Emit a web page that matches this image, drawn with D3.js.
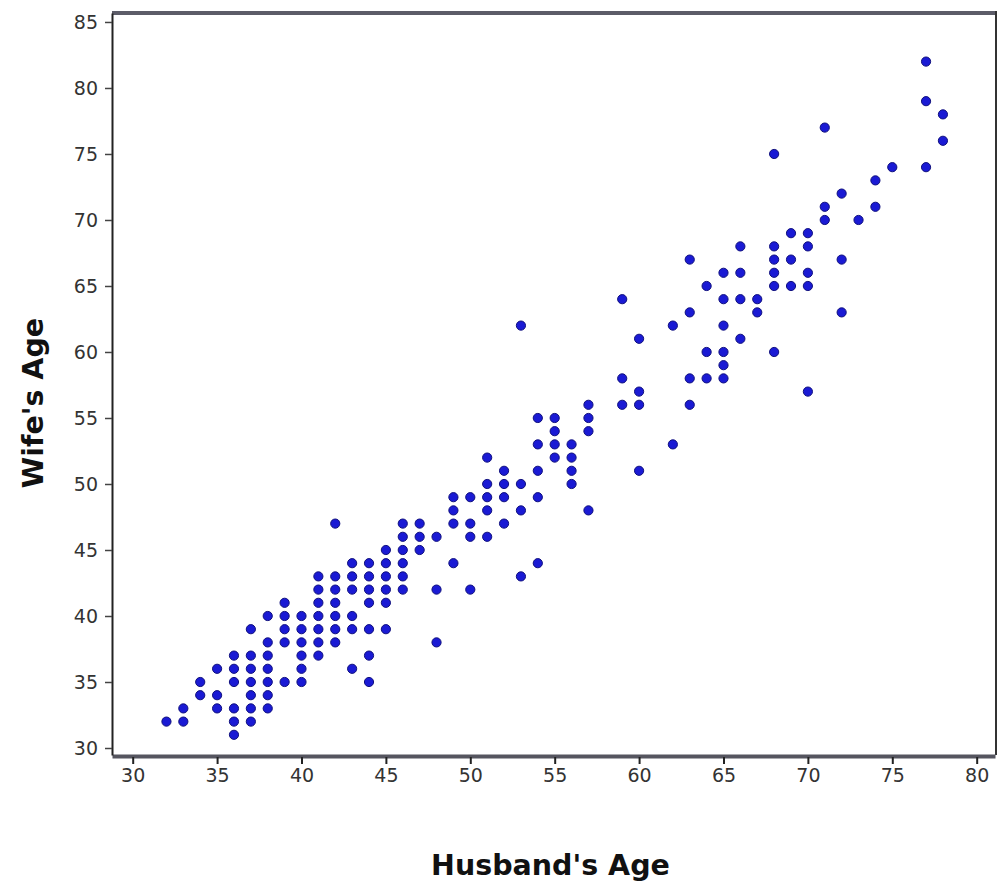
<!DOCTYPE html>
<html>
<head>
<meta charset="utf-8">
<script src="https://cdn.jsdelivr.net/npm/d3@7"></script>
<style>
  body { margin: 0; background: #fff; }
  #viz text { font-family: "DejaVu Sans", sans-serif; }
</style>
</head>
<body>
<div id="viz"></div>
<script>
// husband / wife ages, one pair per couple
var husbandAge = [
  32,
  33, 33,
  34, 34,
  35, 35, 35,
  36, 36, 36, 36, 36, 36,
  37, 37, 37, 37, 37, 37, 37,
  38, 38, 38, 38, 38, 38, 38,
  39, 39, 39, 39, 39,
  40, 40, 40, 40, 40, 40,
  41, 41, 41, 41, 41, 41, 41,
  42, 42, 42, 42, 42, 42, 42,
  43, 43, 43, 43, 43, 43,
  44, 44, 44, 44, 44, 44, 44,
  45, 45, 45, 45, 45, 45,
  46, 46, 46, 46, 46, 46,
  47, 47, 47,
  48, 48, 48,
  49, 49, 49, 49,
  50, 50, 50, 50,
  51, 51, 51, 51, 51,
  52, 52, 52, 52,
  53, 53, 53, 53,
  54, 54, 54, 54, 54,
  55, 55, 55, 55,
  56, 56, 56, 56,
  57, 57, 57, 57,
  59, 59, 59,
  60, 60, 60, 60,
  62, 62,
  63, 63, 63, 63,
  64, 64, 64,
  65, 65, 65, 65, 65, 65,
  66, 66, 66, 66,
  67, 67,
  68, 68, 68, 68, 68, 68,
  69, 69, 69,
  70, 70, 70, 70, 70,
  71, 71, 71,
  72, 72, 72,
  73,
  74, 74,
  75,
  77, 77, 77,
  78, 78
];

var wifeAge = [
  32,
  33, 32,
  35, 34,
  36, 34, 33,
  37, 36, 35, 33, 32, 31,
  39, 37, 36, 35, 34, 33, 32,
  40, 38, 37, 36, 35, 34, 33,
  41, 40, 39, 38, 35,
  40, 39, 38, 37, 36, 35,
  43, 42, 41, 40, 39, 38, 37,
  47, 43, 42, 41, 40, 39, 38,
  44, 43, 42, 40, 39, 36,
  44, 43, 42, 41, 39, 37, 35,
  45, 44, 43, 42, 41, 39,
  47, 46, 45, 44, 43, 42,
  47, 46, 45,
  46, 42, 38,
  49, 48, 47, 44,
  49, 47, 46, 42,
  52, 50, 49, 48, 46,
  51, 50, 49, 47,
  62, 50, 48, 43,
  55, 53, 51, 49, 44,
  55, 54, 53, 52,
  53, 52, 51, 50,
  56, 55, 54, 48,
  64, 58, 56,
  61, 57, 56, 51,
  62, 53,
  67, 63, 58, 56,
  65, 60, 58,
  66, 64, 62, 60, 59, 58,
  68, 66, 64, 61,
  64, 63,
  75, 68, 67, 66, 65, 60,
  69, 67, 65,
  69, 68, 66, 65, 57,
  77, 71, 70,
  72, 67, 63,
  70,
  73, 71,
  74,
  82, 79, 74,
  78, 76
];

var xTicks = [30, 35, 40, 45, 50, 55, 60, 65, 70, 75, 80];
var yTicks = [30, 35, 40, 45, 50, 55, 60, 65, 70, 75, 80, 85];

var width  = 998;
var height = 888;
var plotLeft = 112, plotRight = 995, plotTop = 13, plotBottom = 755;

var x = d3.scaleLinear().domain([28.774, 81.085]).range([plotLeft, plotRight]);
var y = d3.scaleLinear().domain([29.47, 85.68]).range([plotBottom, plotTop]);

var svg = d3.select("#viz")
    .append("svg")
    .attr("width", width)
    .attr("height", height);

// frame: top and right edges
svg.append("line")
    .attr("x1", plotLeft).attr("x2", plotRight + 2)
    .attr("y1", plotTop).attr("y2", plotTop)
    .style("stroke", "#5c5c68")
    .style("stroke-width", 4);
svg.append("line")
    .attr("x1", plotRight + 1).attr("x2", plotRight + 1)
    .attr("y1", plotTop - 2).attr("y2", plotBottom)
    .style("stroke", "#333")
    .style("stroke-width", 2);

var xAxis = svg.append("g")
    .attr("transform", "translate(0," + (plotBottom + 2) + ")")
    .call(d3.axisBottom(x).tickValues(xTicks).tickSize(7).tickPadding(5).tickSizeOuter(0));

var yAxis = svg.append("g")
    .attr("transform", "translate(" + plotLeft + ",0)")
    .call(d3.axisLeft(y).tickValues(yTicks).tickSize(7).tickPadding(7).tickSizeOuter(0));

xAxis.select(".domain").style("stroke", "#55555f").style("stroke-width", 4)
    .attr("transform", "translate(0,-1)");
yAxis.select(".domain").style("stroke", "#222").style("stroke-width", 2);
xAxis.selectAll(".tick line").style("stroke", "#222").style("stroke-width", 2);
yAxis.selectAll(".tick line").style("stroke", "#444").style("stroke-width", 1.5);
svg.selectAll(".tick text")
    .style("font-size", "19px")
    .style("fill", "#333");

svg.selectAll("circle")
    .data(husbandAge)
    .enter()
    .append("circle")
    .attr("cx", function(d) { return x(d); })
    .attr("cy", function(d, i) { return y(wifeAge[i]); })
    .attr("r", 4.6)
    .style("fill", "#1a1ad4")
    .style("stroke", "#10107e")
    .style("stroke-width", 1);

svg.append("text")
    .attr("x", (plotLeft + plotRight) / 2 - 3)
    .attr("y", 875)
    .attr("text-anchor", "middle")
    .style("font-size", "28.5px")
    .style("font-weight", "bold")
    .style("fill", "#111")
    .text("Husband's Age");

svg.append("text")
    .attr("transform", "translate(43,403) rotate(-90)")
    .attr("text-anchor", "middle")
    .style("font-size", "28.5px")
    .style("font-weight", "bold")
    .style("fill", "#111")
    .text("Wife's Age");
</script>
</body>
</html>
